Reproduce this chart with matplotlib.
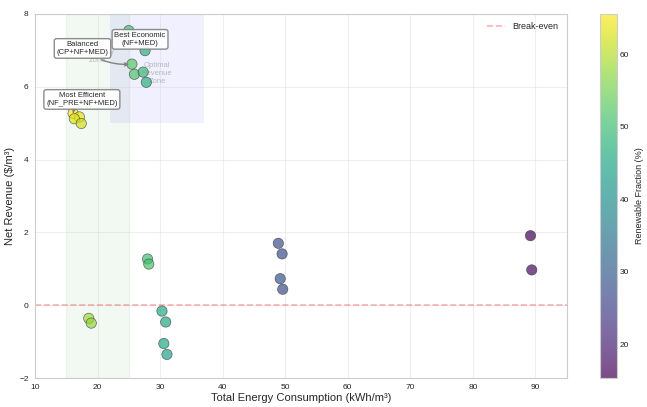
import numpy as np
import matplotlib
matplotlib.use("Agg")
import matplotlib.pyplot as plt
import seaborn as sns

sns.set_style("whitegrid")
plt.rcParams['font.family'] = ['Liberation Sans', 'DejaVu Sans']

# configuration results: energy (kWh/m3), net revenue ($/m3), renewable fraction (%)
energy = [16.1, 17.1, 16.3, 17.4,
          25.0, 27.6, 25.5, 25.9, 27.3, 27.8,
          28.0, 28.2,
          18.6, 19.0,
          30.3, 30.9, 30.6, 31.1,
          48.9, 49.5, 49.2, 49.6,
          89.2, 89.4]
revenue = [5.27, 5.17, 5.12, 4.99,
           7.54, 6.99, 6.62, 6.34, 6.40, 6.12,
           1.27, 1.13,
           -0.36, -0.49,
           -0.16, -0.46, -1.05, -1.35,
           1.70, 1.41, 0.73, 0.44,
           1.91, 0.97]
renewable = [65.5, 64.0, 63.0, 62.0,
             51.0, 47.5, 52.5, 51.5, 49.5, 47.0,
             50.0, 51.0,
             58.5, 57.5,
             45.5, 45.0, 45.5, 44.5,
             28.0, 27.5, 28.5, 27.0,
             15.5, 16.5]

fig = plt.figure(figsize=(6.47, 4.07), dpi=100)
ax = fig.add_axes([0.054, 0.071, 0.822, 0.895])
cax = fig.add_axes([0.927, 0.071, 0.027, 0.895])

# shaded zones
ax.axvspan(15, 25, color="green", alpha=0.05, zorder=0)
ax.fill_between([22, 37], 5, 8, color="blue", alpha=0.06, zorder=0, linewidth=0)
ax.text(20, 6.95, "High\nEfficiency\nZone", ha="center", va="center", fontsize=5.5,
        color="gray", alpha=0.5)
ax.text(29.5, 6.35, "Optimal\nRevenue\nZone", ha="center", va="center", fontsize=5.5,
        color="gray", alpha=0.5)

sc = ax.scatter(energy, revenue, c=renewable, cmap="viridis", s=55, alpha=0.7,
                edgecolors="#333333", linewidths=0.5, vmin=15.3, vmax=65.6, zorder=3)

ax.axhline(0, color="red", linestyle="--", alpha=0.3, linewidth=1.2, label="Break-even")

box = dict(boxstyle="round,pad=0.3", facecolor="white", edgecolor="gray", alpha=0.9)
ax.annotate("Best Economic\n(NF+MED)", xy=(25.0, 7.54), xytext=(26.8, 7.3),
            ha="center", va="center", fontsize=5.5, bbox=box,
            arrowprops=dict(arrowstyle="->", color="gray", connectionstyle="arc3,rad=0.2"),
            zorder=5)
ax.annotate("Balanced\n(CP+NF+MED)", xy=(25.5, 6.62), xytext=(17.6, 7.05),
            ha="center", va="center", fontsize=5.5, bbox=box,
            arrowprops=dict(arrowstyle="->", color="gray", connectionstyle="arc3,rad=0.2"),
            zorder=5)
ax.annotate("Most Efficient\n(NF_PRE+NF+MED)", xy=(16.1, 5.27), xytext=(17.5, 5.65),
            ha="center", va="center", fontsize=5.5, bbox=box,
            arrowprops=dict(arrowstyle="->", color="gray", connectionstyle="arc3,rad=0.2"),
            zorder=5)

ax.set_xlim(10, 95)
ax.set_ylim(-2, 8)
ax.set_xticks(np.arange(10, 100, 10))
ax.set_xlabel("Total Energy Consumption (kWh/m³)", fontsize=8, labelpad=1)
ax.set_ylabel("Net Revenue ($/m³)", fontsize=8, labelpad=3)
ax.tick_params(labelsize=6, pad=1)
ax.grid(alpha=0.3)
for s in ax.spines.values():
    s.set_color("#cccccc")
ax.legend(loc="upper right", fontsize=6.5, frameon=False)

cb = fig.colorbar(sc, cax=cax, alpha=0.7)
cb.set_label("Renewable Fraction (%)", fontsize=6.5)
cb.ax.tick_params(labelsize=6, length=0, pad=2)
cb.ax.grid(False)
cb.outline.set_edgecolor("#cccccc")

fig.savefig("out.png", dpi=100)
